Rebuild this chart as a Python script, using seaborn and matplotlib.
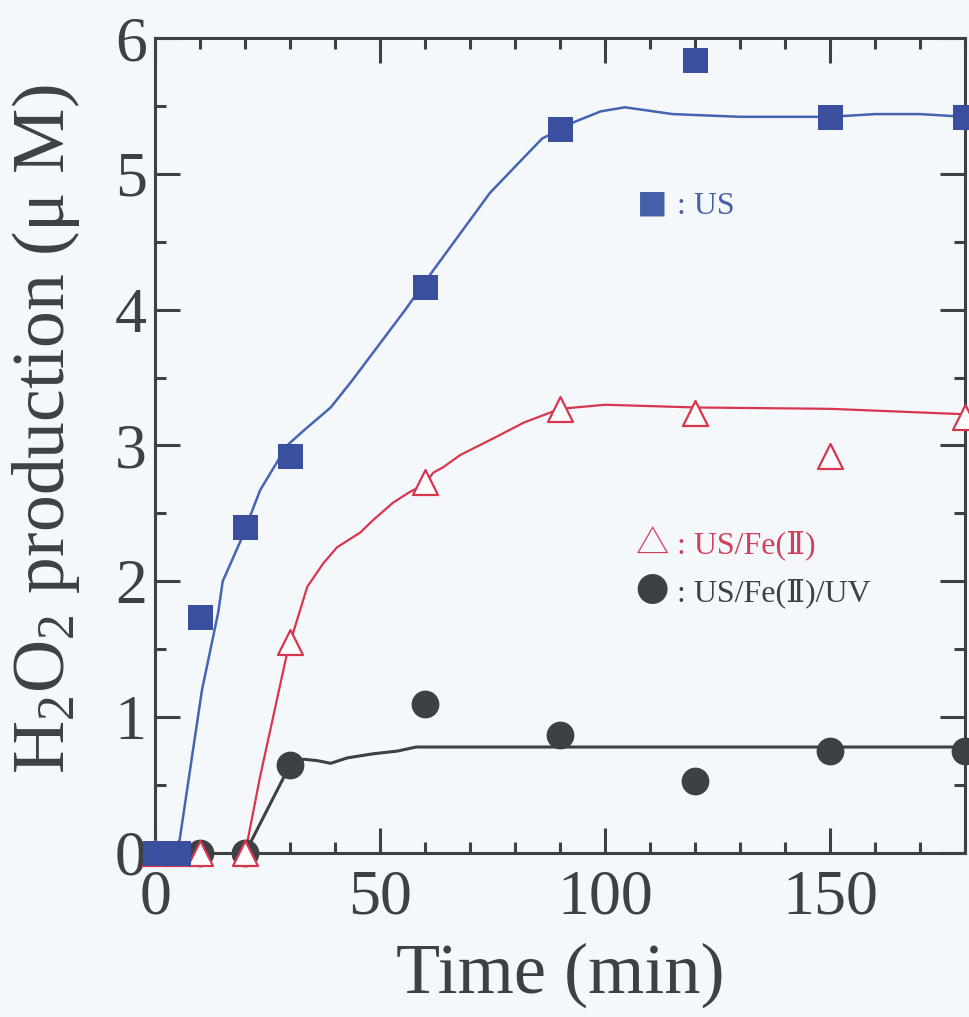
import matplotlib
matplotlib.use("Agg")
import matplotlib.pyplot as plt
from matplotlib.ticker import MultipleLocator
import seaborn as sns

# ---- data ----
time_us = [0, 5, 10, 20, 30, 60, 90, 120, 150, 180]
h2o2_us = [0, 0, 1.74, 2.40, 2.92, 4.17, 5.33, 5.84, 5.42, 5.42]

time_fe = [0, 5, 10, 20, 30, 60, 90, 120, 150, 180]
h2o2_fe = [0, 0, 0, 0, 1.55, 2.73, 3.27, 3.24, 2.92, 3.21]

time_uv = [10, 20, 30, 60, 90, 120, 150, 180]
h2o2_uv = [0, 0, 0.65, 1.10, 0.87, 0.53, 0.75, 0.75]

# fitted curves as drawn in the reference
curve_us_x = [0, 5, 8.5, 10.4, 14, 15, 19, 23.3, 29.3, 33, 39, 43.8, 55.6, 61.8,
              74.4, 79.6, 86, 93, 99, 104.4, 115, 130, 150, 160, 170, 180]
curve_us_y = [0, 0, 0.78, 1.2, 1.77, 2.0, 2.3, 2.67, 3.0, 3.11, 3.28, 3.48, 4.0, 4.29,
              4.86, 5.04, 5.26, 5.38, 5.46, 5.49, 5.44, 5.42, 5.42, 5.44, 5.44, 5.42]

curve_fe_x = [20, 23.3, 29.3, 30, 33.8, 37.3, 40.4, 45.6, 48.4, 52.9, 56.2, 60, 61.8,
              64, 67.8, 75, 82, 90, 100, 120, 150, 180]
curve_fe_y = [0, 0.56, 1.47, 1.55, 1.96, 2.13, 2.25, 2.36, 2.45, 2.58, 2.65, 2.72, 2.8,
              2.84, 2.93, 3.05, 3.17, 3.27, 3.30, 3.28, 3.27, 3.23]

curve_uv_x = [20, 30, 33, 36, 39, 42.7, 48.4, 53.8, 58, 68.4, 100, 140, 180]
curve_uv_y = [0, 0.65, 0.69, 0.68, 0.66, 0.70, 0.73, 0.75, 0.78, 0.78, 0.78, 0.78, 0.78]

xticks = [0, 50, 100, 150]
yticks = [0, 1, 2, 3, 4, 5, 6]

legend_glyphs = ["■", "△", "●"]
legend_labels = [": US", ": US/Fe(Ⅱ)", ": US/Fe(Ⅱ)/UV"]

# ---- style ----
sns.set_theme(style="ticks")
BG = "#f5f8fa"
INK = "#3d4144"
BLUE = "#3a4f9e"
BLUE_LINE = "#4565b3"
RED = "#d8354f"
plt.rcParams["font.family"] = ["Liberation Serif", "DejaVu Serif", "Noto Sans CJK JP"]
plt.rcParams["mathtext.fontset"] = "custom"
plt.rcParams["mathtext.rm"] = "Liberation Serif"
plt.rcParams["mathtext.it"] = "Liberation Serif:italic"

fig = plt.figure(figsize=(9.7, 10.17), dpi=100, facecolor=BG)
ax = fig.add_axes([0.160, 0.1613, 0.835, 0.8013])
ax.set_facecolor(BG)

# curves
sns.lineplot(x=curve_us_x, y=curve_us_y, ax=ax, color=BLUE_LINE, lw=1.8,
             sort=False, estimator=None, zorder=2)
sns.lineplot(x=curve_fe_x, y=curve_fe_y, ax=ax, color=RED, lw=1.6,
             sort=False, estimator=None, zorder=2)
sns.lineplot(x=curve_uv_x, y=curve_uv_y, ax=ax, color=INK, lw=2.2,
             sort=False, estimator=None, zorder=2)

# markers
sns.scatterplot(x=time_uv, y=h2o2_uv, ax=ax, marker="o", s=400, color=INK,
                edgecolor=INK, linewidth=0, zorder=3, clip_on=False)
sns.scatterplot(x=time_fe, y=h2o2_fe, ax=ax, marker="^", s=324, facecolor="white",
                edgecolor=RED, linewidth=1.6, zorder=4, clip_on=False)
sns.scatterplot(x=time_us, y=h2o2_us, ax=ax, marker="s", s=324, color=BLUE,
                edgecolor=BLUE, linewidth=0, zorder=5, clip_on=False)

# axes
ax.set_xlim(0, 180)
ax.set_ylim(0, 6)
ax.set_xticks(xticks)
ax.set_yticks(yticks)
ax.xaxis.set_minor_locator(MultipleLocator(10))
ax.yaxis.set_minor_locator(MultipleLocator(0.5))
for s in ax.spines.values():
    s.set_visible(True)
    s.set_color(INK)
    s.set_linewidth(2.2)
ax.tick_params(which="both", direction="in", top=True, right=True,
               color=INK, width=2.2, labelcolor=INK, labelsize=46)
ax.tick_params(which="major", length=18)
ax.tick_params(which="minor", length=8)
ax.tick_params(axis="x", which="major", pad=12)
ax.tick_params(axis="y", which="major", pad=6)

ax.set_xlabel("Time (min)", fontsize=52, color=INK, labelpad=11)
ax.set_ylabel("H$_\\mathrm{2}$O$_\\mathrm{2}$ production (μ M)", fontsize=53,
              color=INK, labelpad=24)
ax.yaxis.label.set_y(0.52)

# in-plot labels
legend_y = [0.793, 0.378, 0.319]
legend_colors = ["#4560a8", "#d0405a", INK]
glyph_sizes = [22, 24, 24]
for g, lab, yy, c, gs in zip(legend_glyphs, legend_labels, legend_y, legend_colors, glyph_sizes):
    ax.text(0.614, yy, g, transform=ax.transAxes, fontsize=gs, color=c,
            va="center", ha="center", family=["Noto Sans CJK JP"])
    ax.text(0.644, yy, lab, transform=ax.transAxes, fontsize=23, color=c,
            va="center", ha="left")

fig.savefig("out.png", dpi=100, facecolor=BG)
